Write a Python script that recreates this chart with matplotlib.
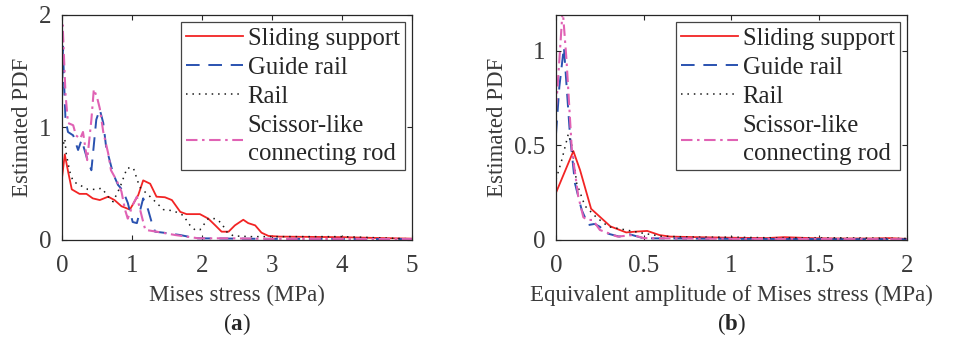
import matplotlib
matplotlib.use("Agg")
import matplotlib.pyplot as plt
from matplotlib.ticker import FormatStrFormatter

plt.rcParams['font.family'] = ['Liberation Serif', 'DejaVu Serif']
plt.rcParams['mathtext.fontset'] = 'custom'
plt.rcParams['mathtext.rm'] = 'Liberation Serif'
plt.rcParams['mathtext.bf'] = 'Liberation Serif:bold'

TXT = '#3a3a3a'
FS = 16.5
TICK_FS = 18

# (a) Mises stress
mises_slide_x = [0, 0.04, 0.09, 0.14, 0.25, 0.35, 0.44, 0.54, 0.66, 0.75, 0.85, 0.97, 1.09, 1.16, 1.26,
                 1.35, 1.47, 1.57, 1.69, 1.78, 1.97, 2.09, 2.19, 2.28, 2.38, 2.47, 2.59, 2.66, 2.76, 2.85,
                 2.95, 3.11, 3.5, 4.0, 4.5, 5.0]
mises_slide_y = [0.55, 0.76, 0.60, 0.45, 0.41, 0.41, 0.37, 0.355, 0.385, 0.355, 0.30, 0.27, 0.40, 0.53, 0.50,
                 0.385, 0.38, 0.355, 0.25, 0.23, 0.23, 0.19, 0.13, 0.074, 0.074, 0.13, 0.18, 0.15, 0.13, 0.065,
                 0.036, 0.03, 0.028, 0.025, 0.018, 0.012]

mises_guide_x = [0, 0.014, 0.03, 0.05, 0.086, 0.16, 0.23, 0.28, 0.37, 0.42, 0.49, 0.54, 0.59, 0.63, 0.73,
                 0.8, 0.87, 0.94, 1.01, 1.07, 1.16, 1.23, 1.28, 1.33, 1.45, 1.69, 1.92, 2.5, 3.0, 4.0, 5.0]
mises_guide_y = [1.24, 1.72, 1.40, 1.07, 0.96, 0.93, 0.80, 0.89, 0.70, 0.62, 1.07, 1.16, 1.04, 0.83, 0.59,
                 0.49, 0.44, 0.33, 0.16, 0.15, 0.37, 0.27, 0.16, 0.074, 0.065, 0.044, 0.015, 0.012, 0.01, 0.01, 0.008]

mises_rail_x = [0, 0.04, 0.06, 0.11, 0.16, 0.25, 0.37, 0.47, 0.57, 0.66, 0.73, 0.83, 0.93, 1.02, 1.11, 1.26,
                1.45, 1.59, 1.73, 1.83, 1.9, 1.97, 2.09, 2.19, 2.28, 2.35, 2.45, 2.7, 3.0, 3.5, 4.0, 4.5, 5.0]
mises_rail_y = [0.80, 0.90, 0.77, 0.61, 0.52, 0.49, 0.45, 0.45, 0.46, 0.385, 0.34, 0.47, 0.64, 0.64, 0.47, 0.385,
                0.27, 0.26, 0.22, 0.13, 0.09, 0.09, 0.19, 0.19, 0.15, 0.074, 0.036, 0.03, 0.03, 0.03, 0.03, 0.02, 0.01]

mises_rod_x = [0, 0.01, 0.05, 0.086, 0.16, 0.2, 0.26, 0.3, 0.36, 0.42, 0.455, 0.5, 0.54, 0.59, 0.66, 0.70,
               0.78, 0.85, 0.9, 0.94, 1.01, 1.07, 1.14, 1.19, 1.35, 1.62, 1.95, 2.4, 3.0, 4.0, 5.0]
mises_rod_y = [1.55, 1.91, 1.30, 1.04, 1.02, 0.93, 0.90, 0.96, 0.71, 1.07, 1.34, 1.27, 1.17, 0.96, 0.77, 0.62,
               0.53, 0.43, 0.27, 0.19, 0.31, 0.385, 0.21, 0.09, 0.074, 0.044, 0.015, 0.015, 0.01, 0.01, 0.008]

# (b) equivalent amplitude
amp_slide_x = [0, 0.099, 0.137, 0.2, 0.31, 0.40, 0.45, 0.52, 0.59, 0.65, 0.8, 1.0, 1.2, 1.3, 1.45, 1.6, 1.8, 1.9, 2.0]
amp_slide_y = [0.25, 0.47, 0.37, 0.165, 0.072, 0.04, 0.044, 0.048, 0.026, 0.018, 0.015, 0.012, 0.01, 0.015,
               0.01, 0.008, 0.008, 0.01, 0.006]

amp_guide_x = [0, 0.019, 0.045, 0.08, 0.108, 0.146, 0.184, 0.22, 0.25, 0.29, 0.36, 0.42, 0.5, 0.7, 1.0, 1.5, 2.0]
amp_guide_y = [0.56, 0.81, 1.02, 0.55, 0.30, 0.16, 0.079, 0.085, 0.07, 0.035, 0.018, 0.03, 0.009, 0.008,
               0.006, 0.005, 0.004]

amp_rail_x = [0, 0.032, 0.07, 0.09, 0.118, 0.165, 0.23, 0.30, 0.40, 0.50, 0.6, 0.8, 1.0, 1.2, 1.5, 1.8, 2.0]
amp_rail_y = [0.32, 0.42, 0.56, 0.50, 0.30, 0.18, 0.12, 0.07, 0.053, 0.035, 0.02, 0.015, 0.015, 0.012,
              0.012, 0.01, 0.008]

amp_rod_x = [0, 0.019, 0.038, 0.06, 0.09, 0.127, 0.156, 0.18, 0.21, 0.25, 0.35, 0.44, 0.5, 0.7, 1.0, 1.5, 2.0]
amp_rod_y = [0.69, 0.95, 1.22, 0.95, 0.48, 0.23, 0.12, 0.106, 0.106, 0.053, 0.018, 0.026, 0.01, 0.008,
             0.006, 0.006, 0.004]

labels = ['Sliding support', 'Guide rail', 'Rail', 'Scissor-like\nconnecting rod']
styles = [dict(color='#F22424', lw=1.3, ls='-'),
          dict(color='#2A52B0', lw=1.4, ls=(0, (7, 4.5))),
          dict(color='#1a1a1a', lw=1.1, ls=(0, (1, 3.2))),
          dict(color='#E062B4', lw=1.5, ls=(0, (5.5, 2.2, 1.2, 2.2)))]


def draw(ax, series, xlim, ylim, xticks, yticks, xlabel):
    for (x, y), lab, st in zip(series, labels, styles):
        ax.plot(x, y, label=lab, **st)
    ax.set_xlim(*xlim)
    ax.set_ylim(*ylim)
    ax.set_xticks(xticks)
    ax.set_yticks(yticks)
    ax.xaxis.set_major_formatter(FormatStrFormatter('%g'))
    ax.yaxis.set_major_formatter(FormatStrFormatter('%g'))
    ax.tick_params(direction='in', top=True, right=True, length=3.5, width=0.8,
                   labelsize=TICK_FS, colors='#262626', labelcolor=TXT)
    ax.tick_params(axis='x', pad=10.5)
    ax.tick_params(axis='y', pad=7.5)
    for sp in ax.spines.values():
        sp.set_color('#262626')
        sp.set_linewidth(0.9)
    ax.set_xlabel(xlabel, fontsize=FS, color=TXT, labelpad=6)
    ax.set_ylabel('Estimated PDF', fontsize=FS, color=TXT, labelpad=4.5)
    leg = ax.legend(loc='upper right', fontsize=17.8, frameon=True, fancybox=False,
                    edgecolor='#444444', framealpha=1, borderpad=0.2, labelspacing=0.28,
                    handlelength=2.3, handletextpad=0.2, borderaxespad=0.3)
    leg.get_frame().set_linewidth(0.9)
    for t in leg.get_texts():
        t.set_color('#262626')
        t.set_linespacing(1.35)


fig = plt.figure(figsize=(9.55, 3.43), dpi=100)
ax1 = fig.add_axes([0.0649, 0.3003, 0.3665, 0.656])
ax2 = fig.add_axes([0.5822, 0.3003, 0.3675, 0.656])

draw(ax1, [(mises_slide_x, mises_slide_y), (mises_guide_x, mises_guide_y),
           (mises_rail_x, mises_rail_y), (mises_rod_x, mises_rod_y)],
     (0, 5), (0, 2), [0, 1, 2, 3, 4, 5], [0, 1, 2], 'Mises stress (MPa)')
draw(ax2, [(amp_slide_x, amp_slide_y), (amp_guide_x, amp_guide_y),
           (amp_rail_x, amp_rail_y), (amp_rod_x, amp_rod_y)],
     (0, 2), (0, 1.19), [0, 0.5, 1, 1.5, 2], [0, 0.5, 1],
     'Equivalent amplitude of Mises stress (MPa)')

# panel captions
fig.text(0.2482, 0.055, r'($\mathbf{a}$)', ha='center', va='center', fontsize=FS, color='#262626')
fig.text(0.766, 0.055, r'($\mathbf{b}$)', ha='center', va='center', fontsize=FS, color='#262626')

fig.savefig('out.png', dpi=100)
